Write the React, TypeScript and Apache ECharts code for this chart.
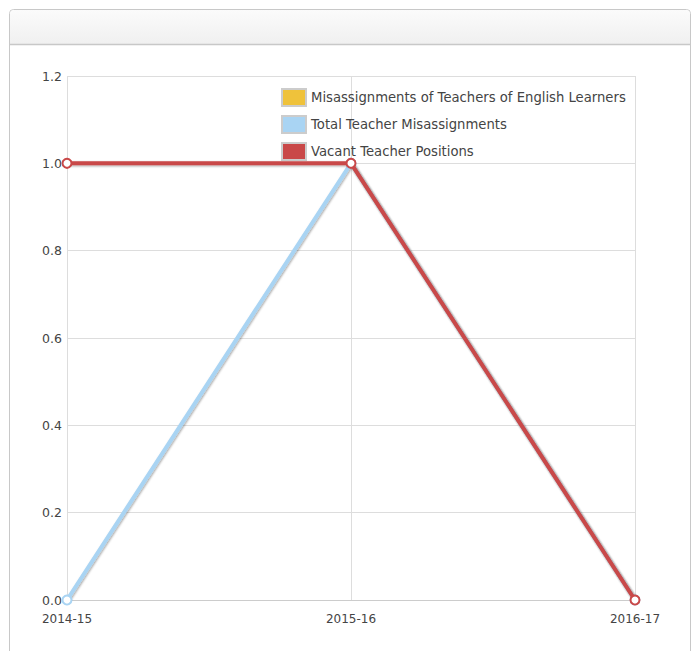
import React, { useEffect, useRef } from "react";
import * as echarts from "echarts";

const schoolYears = ["2014-15", "2015-16", "2016-17"];
const englishLearnerMisassignments: (number | null)[] = [null, null, null];
const totalMisassignments = [0, 1, 0];
const vacantPositions = [1, 1, 0];

const seriesNames = [
  "Misassignments of Teachers of English Learners",
  "Total Teacher Misassignments",
  "Vacant Teacher Positions",
];
const seriesColors = ["#efc23b", "#a9d4f3", "#c94848"];

const FONT = "DejaVu Sans";

export default function App() {
  const ref = useRef<HTMLDivElement>(null);

  useEffect(() => {
    if (!ref.current) return;
    const chart = echarts.init(ref.current, undefined, { renderer: "svg" });
    const lineShadow = {
      shadowColor: "rgba(0,0,0,0.35)",
      shadowBlur: 2,
      shadowOffsetX: 1,
      shadowOffsetY: 1,
    };
    const mkSeries = (i: number, data: (number | null)[]) => ({
      name: seriesNames[i],
      type: "line",
      data,
      z: 2 + i,
      color: seriesColors[i],
      symbol: "circle",
      symbolSize: 9,
      showSymbol: true,
      lineStyle: { width: 4, color: seriesColors[i], ...lineShadow },
      itemStyle: { color: "#ffffff", borderColor: seriesColors[i], borderWidth: 2 },
    });
    chart.setOption({
      animation: false,
      textStyle: { fontFamily: FONT },
      graphic: [
        {
          type: "rect",
          shape: { x: 9.5, y: 9.5, width: 681, height: 660, r: 4 },
          style: { fill: "#ffffff", stroke: "#c8c8c8", lineWidth: 1 },
          z: -10,
        },
        {
          type: "rect",
          shape: { x: 10, y: 10, width: 680, height: 34, r: [4, 4, 0, 0] },
          style: {
            fill: new echarts.graphic.LinearGradient(0, 0, 0, 1, [
              { offset: 0, color: "#fbfbfb" },
              { offset: 1, color: "#f0f0f0" },
            ]),
          },
          z: -9,
        },
        {
          type: "line",
          shape: { x1: 10, y1: 44.5, x2: 690, y2: 44.5 },
          style: { stroke: "#c8c8c8", lineWidth: 1.5 },
          z: -9,
        },
      ],
      legend: {
        orient: "vertical",
        left: 281,
        top: 88,
        padding: 0,
        icon: "rect",
        itemWidth: 24,
        itemHeight: 17,
        itemGap: 8,
        textStyle: { fontFamily: FONT, fontSize: 13.2, color: "#444444" },
        data: seriesNames.map((name, i) => ({
          name,
          itemStyle: { color: seriesColors[i], borderColor: "#cccccc", borderWidth: 2 },
        })),
      },
      grid: { left: 67, right: 62, top: 76, bottom: 51 },
      xAxis: {
        type: "category",
        data: schoolYears,
        boundaryGap: false,
        axisLine: { lineStyle: { color: "#cccccc" } },
        axisTick: { show: false },
        axisLabel: { color: "#444444", fontSize: 12, fontFamily: FONT, margin: 13 },
        splitLine: { show: true, lineStyle: { color: "#dddddd" } },
      },
      yAxis: {
        type: "value",
        min: 0,
        max: 1.2,
        interval: 0.2,
        axisLine: { show: false },
        axisTick: { show: false },
        axisLabel: {
          color: "#444444",
          fontSize: 12.5,
          fontFamily: FONT,
          margin: 5,
          formatter: (v: number) => v.toFixed(1),
        },
        splitLine: { show: true, lineStyle: { color: "#dddddd" } },
      },
      series: [
        mkSeries(0, englishLearnerMisassignments),
        mkSeries(1, totalMisassignments),
        mkSeries(2, vacantPositions),
      ],
    });
    return () => chart.dispose();
  }, []);

  return (
    <div
      ref={ref}
      style={{ position: "fixed", left: 0, top: 0, width: 697, height: 651, background: "#ffffff" }}
    />
  );
}
